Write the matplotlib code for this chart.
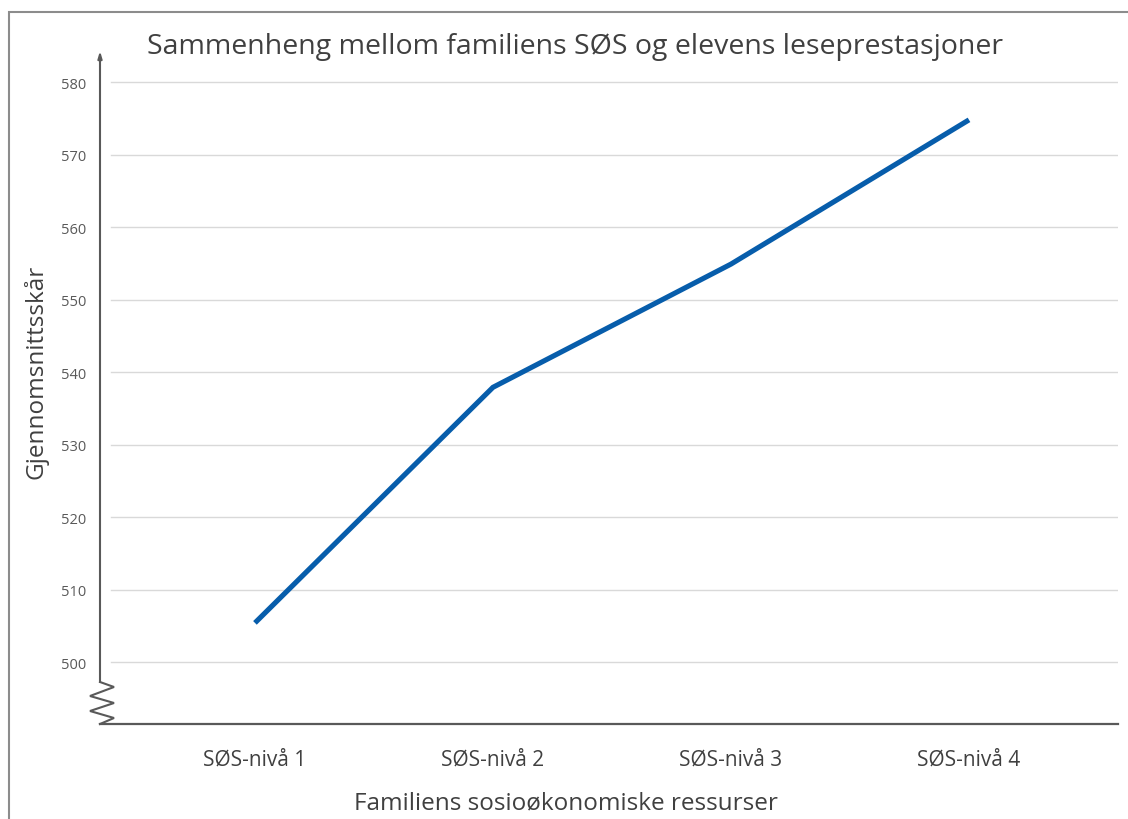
import matplotlib
matplotlib.use("Agg")
import matplotlib.pyplot as plt
from matplotlib.patches import Rectangle
from matplotlib.lines import Line2D

# Data
categories = ["SØS-nivå 1", "SØS-nivå 2", "SØS-nivå 3", "SØS-nivå 4"]
scores = [505.4, 537.9, 554.9, 574.8]
yticks = [500, 510, 520, 530, 540, 550, 560, 570, 580]

title = "Sammenheng mellom familiens SØS og elevens leseprestasjoner"
xlabel = "Familiens sosioøkonomiske ressurser"
ylabel = "Gjennomsnittsskår"

plt.rcParams['font.family'] = ['Open Sans', 'DejaVu Sans']

W, H = 1128, 820
fig = plt.figure(figsize=(W / 100, H / 100), dpi=100)

# axes box in pixels: x 100..1118, y 52..725 (from top)
ax = fig.add_axes([100 / W, (H - 725) / H, 1018 / W, 673 / H])
ax.set_xlim(-0.651, 3.626)
ax.set_ylim(491.45, 584.3)

# gridlines
for v in yticks:
    ax.axhline(v, xmin=11 / 1018, xmax=1.0, color="#d9d9d9", lw=1.0, zorder=1)

ax.plot(range(len(categories)), scores, color="#075dab", lw=3.7,
        solid_capstyle="butt", solid_joinstyle="miter", zorder=3)

for s in ["top", "right", "left"]:
    ax.spines[s].set_visible(False)
ax.spines["bottom"].set_color("#595959")
ax.spines["bottom"].set_linewidth(1.6)

ax.set_yticks(yticks)
ax.set_yticklabels([str(v) for v in yticks], fontsize=10.5, color="#595959")
ax.set_xticks(range(len(categories)))
ax.set_xticklabels(categories, fontsize=15, color="#404040")
ax.tick_params(axis="both", length=0)
ax.tick_params(axis="y", pad=10)
ax.tick_params(axis="x", pad=18)

# y-axis line with arrow, and axis break zigzag
brk = 42 / 673
ax.annotate("", xy=(0, 1.0), xytext=(0, brk), xycoords="axes fraction",
            arrowprops=dict(arrowstyle="-|>,head_length=0.4,head_width=0.12",
                            color="#595959", lw=1.5, shrinkA=0, shrinkB=0),
            annotation_clip=False)
zx = [0, 14, -10, 14, -10, 14, 0]
zy = [42, 37, 28, 21, 13, 6, 0]
ax.add_line(Line2D([x / 1018 for x in zx], [y / 673 for y in zy],
                   transform=ax.transAxes, color="#595959", lw=1.5,
                   clip_on=False, solid_joinstyle="miter"))

fig.text(575 / W, 1 - 47 / H, title, ha="center", va="center",
         fontsize=20.5, color="#404040")
fig.text(566 / W, 1 - 803 / H, xlabel, ha="center", va="center",
         fontsize=17.5, color="#404040")
fig.text(36 / W, 1 - 372 / H, ylabel, ha="center", va="center",
         rotation=90, fontsize=17.5, color="#404040")

# outer chart border (extends beyond right/bottom edges)
fig.patches.append(Rectangle((9 / W, -0.05), 1.1, 1 - 13 / H + 0.05,
                             transform=fig.transFigure, fill=False,
                             edgecolor="#8c8c8c", lw=1.5))

fig.savefig("out.png", dpi=100)
